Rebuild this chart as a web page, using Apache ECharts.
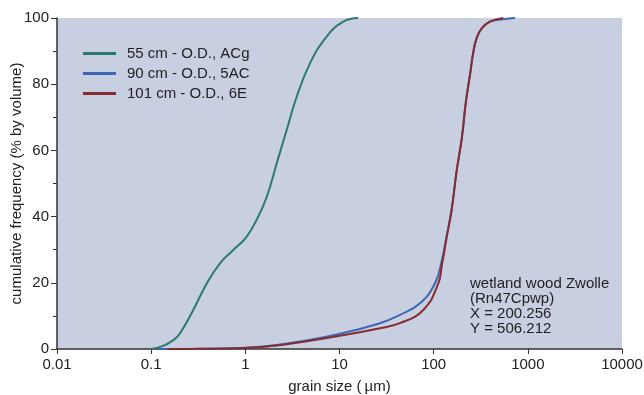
<!DOCTYPE html>
<html>
<head>
<meta charset="utf-8">
<script src="https://cdn.jsdelivr.net/npm/echarts@6/dist/echarts.min.js"></script>
<style>
  html, body { margin: 0; padding: 0; background: #fff; }
  #chart { width: 644px; height: 395px; }
</style>
</head>
<body>
<div id="chart"></div>
<script>
// grain size (µm) vs cumulative frequency (% by volume)
const sizes55 = [0.1, 0.13, 0.172, 0.202, 0.28, 0.389, 0.538, 0.745, 1.03, 1.37, 1.69, 2.15, 2.75, 3.51, 4.86, 7.31, 10.97, 15.8];
const freq55 = [0, 0.8, 2.7, 4.7, 11.8, 19.8, 25.9, 29.9, 33.9, 40, 46, 56, 66.2, 76.2, 86.3, 94.4, 98.9, 100];

const sizes90 = [0.12, 0.3, 0.877, 2.98, 10.1, 26.9, 43.8, 71.6, 103, 121.6, 137, 155, 175, 199, 220, 243, 264, 286, 324, 396, 548, 731];
const freq90 = [0, 0.05, 0.3, 1.8, 4.6, 7.8, 10.3, 13.8, 19.8, 26.5, 34, 42, 53.6, 63.7, 74.7, 82.8, 89.8, 93.9, 96.9, 98.9, 99.6, 100];

const sizes101 = [0.15, 0.3, 0.877, 2.98, 10.1, 26.9, 43.8, 77.6, 112, 121.6, 137, 155, 175, 199, 220, 243, 264, 286, 324, 396, 548];
const freq101 = [0, 0.05, 0.2, 1.6, 4.0, 6.3, 7.8, 11.8, 19.8, 25, 33.5, 42, 53.6, 63.7, 74.7, 82.8, 89.8, 93.9, 96.9, 98.9, 100];

const seriesNames = ['55 cm - O.D., ACg', '90 cm - O.D., 5AC', '101 cm - O.D., 6E'];
const seriesColors = ['#2b7a70', '#3d66b4', '#862c2e'];
const noteLines = ['wetland wood Zwolle', '(Rn47Cpwp)', 'X = 200.256', 'Y = 506.212'];

const pairs = (xs, ys) => xs.map((x, i) => [x, ys[i]]);
const allData = [pairs(sizes55, freq55), pairs(sizes90, freq90), pairs(sizes101, freq101)];

const font = '"Liberation Sans", Arial, sans-serif';
const txt = { fontFamily: font, fontSize: 15, color: '#222' };
const chart = echarts.init(document.getElementById('chart'));

chart.setOption({
  animation: false,
  backgroundColor: '#fff',
  textStyle: { fontFamily: font },
  grid: {
    left: 57, right: 22, top: 18, bottom: 46,
    outerBoundsMode: 'none',
    show: true, backgroundColor: '#c8cfe1', borderWidth: 0
  },
  legend: {
    orient: 'vertical',
    left: 78, top: 41,
    icon: 'rect',
    itemWidth: 33, itemHeight: 3, itemGap: 5,
    textStyle: Object.assign({ padding: [0, 0, 0, 6] }, txt),
    data: seriesNames
  },
  xAxis: {
    type: 'log',
    logBase: 10,
    min: 0.01, max: 10000,
    name: 'grain size (\u2009µm)',
    nameLocation: 'middle',
    nameGap: 30,
    nameMoveOverlap: false,
    nameTextStyle: txt,
    axisLine: { lineStyle: { color: '#333', width: 1.5 } },
    axisTick: { length: 5, lineStyle: { color: '#333' } },
    axisLabel: Object.assign({ margin: 8, formatter: v => String(+v.toPrecision(6)) }, txt),
    splitLine: { show: false }
  },
  yAxis: {
    type: 'value',
    min: 0, max: 100, interval: 20,
    name: 'cumulative frequency (% by volume)',
    nameLocation: 'middle',
    nameGap: 33,
    nameMoveOverlap: false,
    nameTextStyle: txt,
    axisLine: { show: true, lineStyle: { color: '#333', width: 1.5 } },
    axisTick: { show: true, length: 6, lineStyle: { color: '#333' } },
    minorTick: { show: true, splitNumber: 2, length: 4, lineStyle: { color: '#333' } },
    axisLabel: Object.assign({ margin: 8 }, txt),
    splitLine: { show: false }
  },
  series: allData.map((d, i) => ({
    name: seriesNames[i],
    type: 'line',
    data: d,
    smooth: 0.45,
    symbol: 'none',
    z: 3 + i,
    lineStyle: { color: seriesColors[i], width: 2 },
    itemStyle: { color: seriesColors[i] }
  })),
  graphic: noteLines.map((t, i) => ({
    type: 'text',
    left: 470,
    top: 276 + i * 15,
    style: { text: t, fill: '#222', font: '15px ' + font }
  }))
});
</script>
</body>
</html>
